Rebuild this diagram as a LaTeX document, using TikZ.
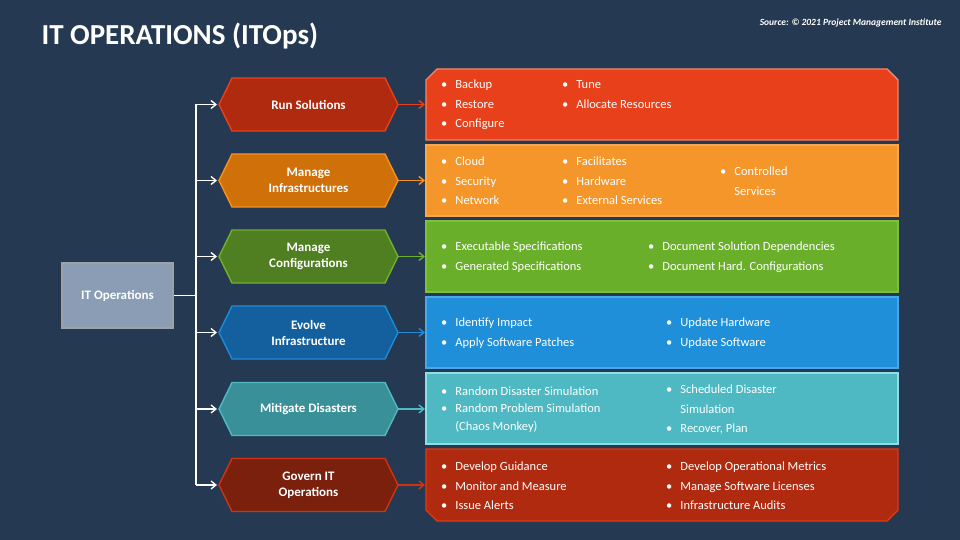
\documentclass[tikz,border=0pt]{standalone}
\usepackage{fontspec}
\setmainfont{Carlito}
\usetikzlibrary{shapes.geometric,arrows.meta}
\definecolor{bg}{HTML}{253A52}
\tikzset{x=1pt,y=-1pt,
 hexa/.style={draw,line width=1.4pt,text=white,font=\bfseries\fontsize{13}{16}\selectfont,align=center},
 box/.style={draw,line width=1.4pt},
 lst/.style={anchor=west,text=white,inner sep=0pt,font=\fontsize{12.5}{19.5}\selectfont,align=left},
 tree/.style={draw=white,line width=1.3pt},
 tarr/.style={tree,-{Straight Barb[length=5pt,width=8pt]}},
 carr/.style={line width=1.4pt,-{Straight Barb[length=5pt,width=8pt]}}}
\newcommand{\hexpath}[3]{% y1 y2 name
 \path (219,#1) -- ++(0,0);}
\newcommand{\bl}[1]{\textbullet\hspace{8pt}#1}
\begin{document}
\begin{tikzpicture}
\fill[bg] (0,0) rectangle (960,540);
\node[anchor=west,text=white,font=\bfseries\fontsize{29}{34}\selectfont] (title) at (38,36) {IT OPERATIONS (ITOps)};
\node[anchor=east,text=white,font=\bfseries\itshape\fontsize{9.5}{11}\selectfont] (src) at (945,23) {Source: © 2021 Project Management Institute};
% root
\node[draw=white!70!bg!50!gray,fill={rgb,255:red,138;green,157;blue,181},line width=1.2pt,minimum width=111pt,minimum height=65pt,text=white,font=\bfseries\fontsize{13}{16}\selectfont] (root) at (117.5,295.5) {IT Operations};
\coordinate (trunk) at (196,295.5);
\coordinate (ttop) at (196,104);
\coordinate (tbot) at (196,485);
\draw[tree] (root.east) -- (trunk);
\draw[tree] (ttop) -- (tbot);
% rows: y center, hex fill, hex border, box fill, box border, name
\foreach \yc/\hf/\hb/\bf/\bb/\nm/\txt in {
 104.5/B02A10/E8401A/E8401A/F0876A/r1/{Run Solutions},
 180.5/D07008/F39220/F5962A/F5A850/r2/{Manage\\Infrastructures},
 256.5/4F7F20/6FB030/6AAF2A/7DC040/r3/{Manage\\Configurations},
 332.5/14609F/1C8CD8/1E8FD8/48A8E8/r4/{Evolve\\Infrastructure},
 409/3A9098/4FBAC4/4FB9C3/90DDE2/r5/{Mitigate Disasters},
 485/7A200C/D0330F/B02A10/E03A12/r6/{Govern IT\\Operations}}{
 \definecolor{hf}{HTML}{\hf}\definecolor{hb}{HTML}{\hb}
 \definecolor{bf}{HTML}{\bf}\definecolor{bb}{HTML}{\bb}
 \draw[line width=1.4pt,draw=hb,fill=hf] (219,\yc) -- (232,\yc-26.5) -- (385,\yc-26.5) -- (398,\yc) -- (385,\yc+26.5) -- (232,\yc+26.5) -- cycle;
 \node[hexa,draw=none] (h\nm) at (308.5,\yc) {\txt};
 \coordinate (hw\nm) at (217,\yc);
 \coordinate (he\nm) at (398,\yc);
 \coordinate (bw\nm) at (425,\yc);
 \coordinate (tj\nm) at (196,\yc);
 \draw[tarr] (tj\nm) -- (hw\nm);
 \draw[carr,draw=hb] (he\nm) -- (bw\nm);
}
% boxes
\draw[box,draw={rgb,255:red,240;green,135;blue,106},fill={rgb,255:red,232;green,64;blue,26}] (426,140) -- (426,80) -- (437,69) -- (887,69) -- (898,80) -- (898,140) -- cycle;
\draw[box,draw={rgb,255:red,245;green,168;blue,80},fill={rgb,255:red,245;green,150;blue,42}] (426,145) rectangle (898,216);
\draw[box,draw={rgb,255:red,125;green,192;blue,64},fill={rgb,255:red,106;green,175;blue,42}] (426,221) rectangle (898,292);
\draw[box,draw={rgb,255:red,72;green,168;blue,232},fill={rgb,255:red,30;green,143;blue,216}] (426,297) rectangle (898,368);
\draw[box,draw={rgb,255:red,144;green,221;blue,226},fill={rgb,255:red,79;green,185;blue,195}] (426,373) rectangle (898,444);
\draw[box,draw={rgb,255:red,224;green,58;blue,18},fill={rgb,255:red,176;green,42;blue,16}] (426,449) -- (898,449) -- (898,510) -- (887,521) -- (437,521) -- (426,510) -- cycle;
% lists
\node[lst] (l1a) at (441,105) {\bl{Backup}\\\bl{Restore}\\\bl{Configure}};
\node[lst] (l1b) at (562,94.5) {\bl{Tune}\\\bl{Allocate Resources}};
\node[lst] (l2a) at (441,181) {\bl{Cloud}\\\bl{Security}\\\bl{Network}};
\node[lst] (l2b) at (562,181) {\bl{Facilitates}\\\bl{Hardware}\\\bl{External Services}};
\node[lst] (l2c) at (720,181) {\bl{Controlled}\\\phantom{\textbullet}\hspace{8pt}Services};
\node[lst] (l3a) at (441,257) {\bl{Executable Specifications}\\\bl{Generated Specifications}};
\node[lst] (l3b) at (648,257) {\bl{Document Solution Dependencies}\\\bl{Document Hard. Configurations}};
\node[lst] (l4a) at (441,333) {\bl{Identify Impact}\\\bl{Apply Software Patches}};
\node[lst] (l4b) at (666,333) {\bl{Update Hardware}\\\bl{Update Software}};
\node[lst,font=\fontsize{12.5}{17.5}\selectfont] (l5a) at (441,409.5) {\bl{Random Disaster Simulation}\\\bl{Random Problem Simulation}\\\phantom{\textbullet}\hspace{8pt}(Chaos Monkey)};
\node[lst] (l5b) at (666,409.5) {\bl{Scheduled Disaster}\\\phantom{\textbullet}\hspace{8pt}Simulation\\\bl{Recover, Plan}};
\node[lst] (l6a) at (441,486) {\bl{Develop Guidance}\\\bl{Monitor and Measure}\\\bl{Issue Alerts}};
\node[lst] (l6b) at (666,486) {\bl{Develop Operational Metrics}\\\bl{Manage Software Licenses}\\\bl{Infrastructure Audits}};
\end{tikzpicture}
\end{document}
